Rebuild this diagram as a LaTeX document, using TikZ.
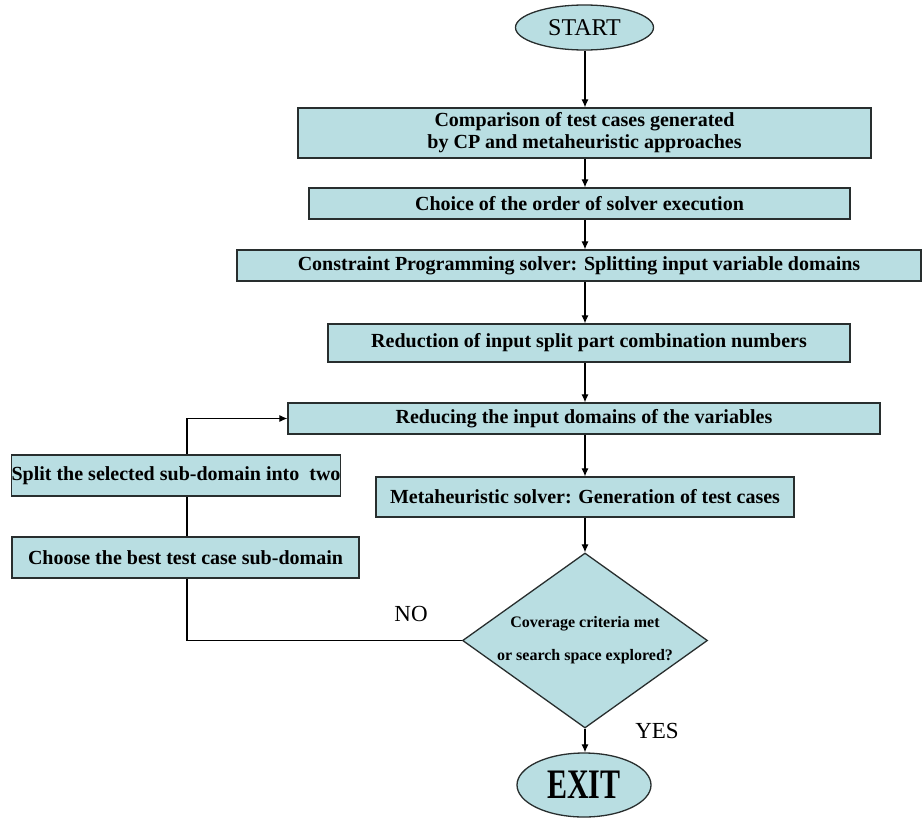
\documentclass[tikz,border=0pt]{standalone}
\usepackage{fontspec}
\usepackage{graphicx}
\setmainfont{Liberation Serif}
\usetikzlibrary{arrows.meta,shapes.geometric}
\definecolor{boxfill}{RGB}{185,222,226}
\definecolor{edgecol}{RGB}{40,46,46}
\pgfdeclarelayer{back}
\pgfdeclarelayer{conn}
\pgfsetlayers{back,conn,main}
\begin{document}
\begin{tikzpicture}[x=1pt,y=-1pt,
  stepbox/.style={draw=edgecol,fill=boxfill,line width=1.3pt,inner sep=0pt,
    font=\bfseries\fontsize{20}{22}\selectfont,align=center},
  term/.style={ellipse,draw=edgecol,fill=boxfill,line width=1.3pt,inner sep=0pt},
  arr/.style={-{Latex[length=8pt,width=7pt]},line width=1.1pt,draw=black},
  lab/.style={font=\fontsize{23}{25}\selectfont,inner sep=0pt}]
\useasboundingbox (0,0) rectangle (923,833);
\begin{pgfonlayer}{back}
\fill[white] (0,0) rectangle (923,833);
\end{pgfonlayer}
\coordinate (ax) at (585,0);
\coordinate (lx) at (187,0);

\node[term,minimum width=138pt,minimum height=45pt,font=\fontsize{24}{26}\selectfont] (start) at (584.5,27.5) {START};
\node[stepbox,minimum width=573pt,minimum height=50pt] (b1) at (584.5,133) {Comparison of test cases generated\\by CP and metaheuristic approaches};
\node[stepbox,minimum width=541pt,minimum height=31pt] (b2) at (579.5,203.5) {Choice of the order of solver execution};
\node[stepbox,minimum width=684pt,minimum height=31pt] (b3) at (579,265.5) {Constraint Programming solver: Splitting input variable domains};
\node[stepbox,minimum width=522pt,minimum height=38pt] (b4) at (589,343) {Reduction of input split part combination numbers};
\node[stepbox,minimum width=592pt,minimum height=31pt] (b5) at (584,418.5) {Reducing the input domains of the variables};
\node[stepbox,minimum width=418pt,minimum height=40pt] (b6) at (585,497) {Metaheuristic solver: Generation of test cases};
\node[stepbox,minimum width=328pt,minimum height=41pt] (split) at (176,475.5) {Split the selected sub-domain into\ \ two};
\node[stepbox,minimum width=347pt,minimum height=41pt] (choose) at (185.5,557.5) {Choose the best test case sub-domain};
\node[diamond,draw=edgecol,fill=boxfill,line width=1.3pt,inner sep=0pt,minimum width=245pt,minimum height=175pt] (dec) at (585,640.5) {};
\node[font=\bfseries\fontsize{16}{33}\selectfont,align=center,inner sep=0pt] (dectext) at (dec.center) {Coverage criteria met\\or search space explored?};
\node[term,minimum width=134pt,minimum height=64pt] (exit) at (584,785) {\scalebox{1}[1.4]{\bfseries\fontsize{30}{32}\selectfont EXIT}};
\node[lab] (no) at (411,614) {NO};
\node[lab] (yes) at (657,731) {YES};

\begin{pgfonlayer}{conn}
\draw[arr] (ax |- start.south) -- (ax |- b1.north);
\draw[arr] (ax |- b1.south) -- (ax |- b2.north);
\draw[arr] (ax |- b2.south) -- (ax |- b3.north);
\draw[arr] (ax |- b3.south) -- (ax |- b4.north);
\draw[arr] (ax |- b4.south) -- (ax |- b5.north);
\draw[arr] (ax |- b5.south) -- (ax |- b6.north);
\draw[arr] (ax |- b6.south) -- (ax |- dec.north);
\draw[arr] (ax |- dec.south) -- (ax |- exit.north);
\draw[arr] (dec.west) -| (lx |- b5.west) -- (b5.west);
\end{pgfonlayer}
\end{tikzpicture}
\end{document}
